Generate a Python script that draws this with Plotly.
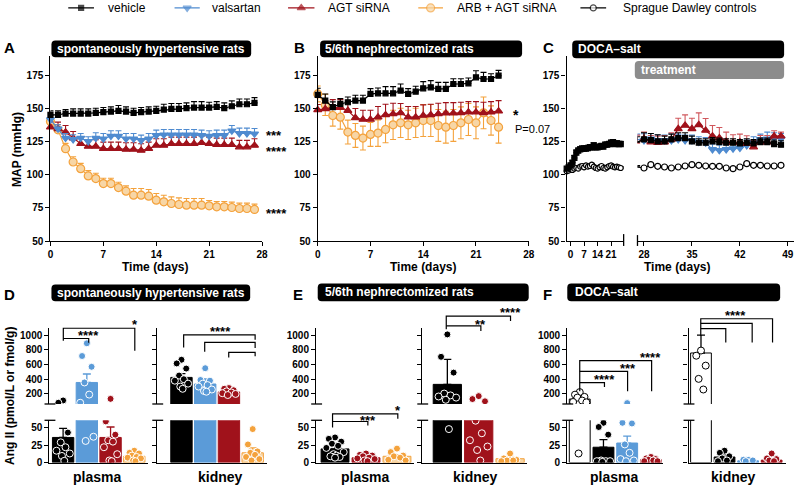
import plotly.graph_objects as go

W, H = 800, 490
FONT = "Liberation Sans, Arial, Helvetica, sans-serif"

BLACK = "#000000"
BLUE = "#5b9bd8"
BLUE_LINE = "#4f8bd0"
RED = "#a0121b"
ORANGE = "#f4a23c"
PEACH = "#f7d6a6"
GRAY = "#8c8c8c"
WHITE = "#ffffff"

# ---------------- Panel A : spontaneously hypertensive rats (MAP, mmHg) ----------------
A_days = list(range(28))
A_vehicle = [145, 145, 146, 146, 146, 146, 146.5, 147, 147.5, 148, 147.5, 146.5, 147, 147.5, 148,
             149, 149.5, 149.5, 150, 150.5, 150.5, 150.5, 151, 150, 151.5, 153, 153, 154]
A_vehicle_err = [3, 3, 3, 3.5, 3.5, 3.5, 3.5, 3.5, 3.5, 4, 3.5, 3.5, 3.5, 3.5, 3.5, 4, 4, 4, 4,
                 4.5, 4.5, 4, 4, 4, 4, 4, 4, 4]
A_valsartan = [141.5, 134.5, 127.5, 126.5, 127.5, 125, 127.5, 127, 129, 129, 127, 127, 125.75, 127,
               129.5, 130, 130, 130, 130, 130, 129.5, 129, 129.5, 129.5, 133, 131, 131, 130.75]
A_valsartan_err = [3, 3, 3.5, 3.5, 3.5, 3.5, 4, 4, 4, 4, 4, 4, 4, 4, 4, 4, 4, 4, 4, 4, 4, 4, 4, 4,
                   4, 4, 4, 4]
A_agt = [135.75, 134.5, 132, 127.5, 123.25, 121.25, 121.25, 119.5, 119.5, 119.5, 119, 119, 118.25,
         119.5, 122, 122, 123.25, 123.25, 123.25, 123.25, 124, 123.25, 122.5, 122.5, 122.5, 120.75,
         120.75, 122]
A_agt_err = [4, 5, 5, 5, 5, 5, 5, 5, 5, 5, 5, 5, 5, 5, 5, 5, 5, 5, 5, 5, 5, 5, 5, 5, 5, 5, 5, 5]
A_arb = [140, 133.75, 119.5, 109.5, 104.5, 99, 97, 93.25, 93.25, 90.25, 87.5, 84.5, 84.5, 83.75,
         80.75, 79.5, 78.25, 77.5, 77, 77, 77, 76.5, 75.75, 75.75, 75.25, 74.5, 74.5, 73.75]
A_arb_err = [4, 4, 4, 4, 4, 4, 4, 4, 4, 4, 4, 5, 5, 5, 5, 5, 5, 5, 5, 5, 5, 4, 4, 4, 4, 4, 4, 4]

# ---------------- Panel B : 5/6th nephrectomized rats ----------------
B_days = list(range(25))
B_vehicle = [160, 155.75, 150.75, 153.25, 154.5, 155.75, 155.75, 160.75, 161.25, 161.25, 161.25,
             163.25, 160.75, 162.5, 165, 165.75, 164.5, 164.5, 168.25, 168.25, 168.75, 173.25, 172,
             172, 174.5]
B_vehicle_err = [5, 5, 4, 4, 4, 4, 4, 4, 4, 5, 5, 5, 4, 4, 5, 5, 5, 5, 4, 4, 4, 5, 5, 4, 4]
B_agt = [148.75, 149.5, 150.5, 150.5, 148.25, 142.75, 141.5, 141.5, 143.25, 145, 145.75, 146.5,
         143.25, 143.25, 144.5, 145, 145.75, 146.25, 146.25, 146.5, 147, 147, 146.5, 147, 147.75]
B_agt_err = [4, 5, 6, 6, 7, 7, 7, 7, 8, 8, 8, 7, 8, 8, 8, 8, 8, 8, 8, 8, 8, 8, 8, 8, 8]
B_arb = [160.75, 152.5, 144.5, 143.25, 132, 129.5, 127.5, 130.25, 131.25, 134, 137.5, 139, 137.5,
         139, 140.75, 140.75, 137, 135.75, 137, 139, 141.5, 139, 146.5, 140.75, 135.75]
B_arb_err = [6, 8, 8, 9, 9, 9, 9, 9, 10, 10, 11, 11, 11, 11, 12, 12, 12, 12, 12, 12, 12, 12, 12, 11, 12]

# ---------------- Panel C : DOCA-salt ----------------
C_days_pre = list(range(-2, 27))
C_vehicle_pre = [104.5, 105.5, 107, 109, 112.5, 116.5, 118, 119, 119.5, 119.5, 119.5, 120, 120.5,
                 120.5, 122, 120.5, 120.5, 121, 121.5, 121, 122.5, 122.5, 123, 124, 124.5, 123,
                 123.5, 123, 123]
C_vehicle_pre_err = [1, 1, 1, 1.5, 2, 2, 2, 2, 2, 2, 2, 2, 2, 2, 2, 2, 2, 2, 2, 2, 2, 2, 2, 2, 2,
                     2, 2, 2, 2]
C_sd_pre = [102.5, 103, 104, 103.5, 104.5, 105, 104.5, 106, 106.5, 105.5, 107, 106, 106.5, 107.5,
            106, 105, 104.5, 105.5, 106.5, 105, 104.5, 105.5, 106.5, 107, 106, 105.5, 106, 105.5,
            105]
C_sd_pre_err = [1, 1, 1, 1, 1, 1, 1, 1, 1, 1, 1, 1, 1, 1, 1, 1, 1, 1, 1, 1, 1, 1, 1, 1, 1, 1, 1,
                1, 1]
C_days_tx = list(range(27, 49))
C_vehicle_tx = [124.5, 126.5, 126, 125, 125, 126.5, 127.5, 127.5, 125, 124, 124, 125, 124.5, 124,
                124, 123.5, 124, 123.5, 124.5, 124.5, 123, 122.5]
C_vehicle_tx_err = [4, 5, 5, 5, 4, 4, 4, 4, 4, 3, 3, 3, 3, 3, 3, 3, 3, 3, 3, 3, 3, 3]
C_valsartan_tx = [126.5, 125.75, 127, 125.75, 125.75, 125.75, 126.5, 125.75, 125.75, 124.5, 124,
                  119, 118.25, 119, 119.5, 120, 122, 124.5, 126.5, 127, 127.5, 127]
C_valsartan_tx_err = [4, 5, 4, 4, 4, 5, 4, 4, 4, 4, 4, 4, 4, 4, 4, 4, 4, 4, 4, 5, 4, 4]
C_agt_tx = [123.75, 127, 124.5, 124, 124.5, 126.5, 134.5, 137, 134.5, 137.5, 133.25, 129, 127.5,
            125, 124, 124.5, 123.25, 120.75, 124.5, 124.5, 129, 129]
C_agt_tx_err = [6, 5, 5, 5, 5, 5, 8, 8, 8, 9, 9, 8, 8, 7, 6, 6, 6, 5, 5, 5, 4, 3]
C_sd_tx = [105.75, 105, 107.5, 106.25, 105.75, 105, 105.75, 106.5, 107.5, 107, 106.5, 106.25,
           106.25, 105, 104.5, 105.75, 108.25, 107, 107, 106.5, 106.5, 107]
C_sd_tx_err = [1, 1, 1, 1, 1, 1, 1, 1, 1, 1, 1, 1, 1, 1, 1, 1, 1, 1, 1, 1, 1, 1]

# ---------------- Panels D-F : Ang II (pmol/L or fmol/g) ----------------
D_plasma_mean = [36, 356, 36, 9]
D_plasma_err = [13, 115, 15, 2]
D_plasma_dots = [[111, 80, 43, 29, 22, 17, 13, 9.5, 2.5],
                 [889, 716, 569, 356, 191, 80, 37, 31],
                 [133, 59, 40, 32, 30, 22, 12, 3, 2],
                 [17, 14, 13, 10, 8, 7, 6, 3, 2]]
D_kidney_mean = [425, 335, 227, 14]
D_kidney_err = [50, 70, 15, 7]
D_kidney_dots = [[665, 615, 545, 450, 400, 380, 340, 300, 270],
                 [550, 390, 380, 340, 320, 300, 260, 240, 230],
                 [280, 270, 250, 235, 220, 210, 200, 185],
                 [48, 26, 16, 14, 11, 8, 5, 3]]
E_plasma_mean = [19.6, 6.8, 9]
E_plasma_err = [3.5, 1.5, 2.5]
E_plasma_dots = [[36, 34, 30, 27, 24, 21, 15, 12, 10, 9, 8, 7],
                 [13, 11, 10, 9, 7, 6, 5, 3, 2],
                 [20, 15, 10, 9, 7, 4, 3]]
E_kidney_mean = [330, 63, 5.5]
E_kidney_err = [340, 20, 2]
E_kidney_dots = [[1010, 705, 490, 205, 180, 165, 150, 120, 48],
                 [170, 130, 100, 60, 42, 32, 23, 18, 3],
                 [13, 6, 4, 3, 3, 2]]
F_plasma_mean = [130, 22, 28, 4]
F_plasma_err = [25, 11, 10, 1]
F_plasma_dots = [[225, 190, 160, 150, 110, 90, 85, 13],
                 [57, 51, 40, 3, 2, 2, 2, 1],
                 [75, 57, 56, 26, 14, 5, 3, 2],
                 [8, 6, 5, 4, 3, 2, 2]]
F_kidney_mean = [757, 8, 2.5, 3.5]
F_kidney_err = [243, 3, 1, 1.5]
F_kidney_dots = [[790, 720, 585, 405, 260],
                 [17, 14, 9, 6, 3, 2],
                 [4, 4, 3, 2],
                 [13, 6, 5, 3, 2]]

MAP_TICKS = [50, 75, 100, 125, 150, 175]
DAY_TICKS = [0, 7, 14, 21, 28]
UPPER_TICKS = [200, 400, 600, 800, 1000]
LOWER_TICKS = [0, 25, 50]

legend_names = ["vehicle", "valsartan", "AGT siRNA", "ARB + AGT siRNA", "Sprague Dawley controls"]

# ======================================================================
fig = go.Figure()
layout_axes = {}
shapes = []
annotations = []


def X(px):
    return px / W


def Y(py):
    return 1 - py / H


AX_BASE = dict(showgrid=False, zeroline=False, showline=True, linecolor="black", linewidth=1.3,
               ticks="outside", ticklen=4, tickwidth=1.3, tickcolor="black", tickangle=0,
               tickfont=dict(family=FONT, size=10, color="black", weight="bold"), fixedrange=True)


def ref(i):
    return ("x", "y") if i == 1 else (f"x{i}", f"y{i}")


def make_axes(i, xpx, ypx, xr, yr, xo=None, yo=None):
    xn = "xaxis" if i == 1 else f"xaxis{i}"
    yn = "yaxis" if i == 1 else f"yaxis{i}"
    xr_, yr_ = ref(i)
    xa = dict(AX_BASE)
    xa.update(domain=[X(xpx[0]), X(xpx[1])], range=xr, anchor=yr_)
    ya = dict(AX_BASE)
    ya.update(domain=[Y(ypx[1]), Y(ypx[0])], range=yr, anchor=xr_)
    if xo:
        xa.update(xo)
    if yo:
        ya.update(yo)
    layout_axes[xn] = xa
    layout_axes[yn] = ya
    # empty placeholder so that every declared subplot is drawn
    fig.add_trace(go.Scatter(x=[], y=[], xaxis=xr_, yaxis=yr_, mode="markers", hoverinfo="skip"))


def ann(x, y, text, size=12, color="black", xanchor="center", angle=0, bold=True):
    t = f"<b>{text}</b>" if bold else text
    annotations.append(dict(x=X(x), y=Y(y), xref="paper", yref="paper", text=t, showarrow=False,
                            xanchor=xanchor, yanchor="middle", textangle=angle,
                            font=dict(family=FONT, size=size, color=color)))


def rrect(x0, y0, x1, y1, color, r=4):
    p = (f"M {X(x0 + r)},{Y(y0)} L {X(x1 - r)},{Y(y0)} Q {X(x1)},{Y(y0)} {X(x1)},{Y(y0 + r)} "
         f"L {X(x1)},{Y(y1 - r)} Q {X(x1)},{Y(y1)} {X(x1 - r)},{Y(y1)} L {X(x0 + r)},{Y(y1)} "
         f"Q {X(x0)},{Y(y1)} {X(x0)},{Y(y1 - r)} L {X(x0)},{Y(y0 + r)} Q {X(x0)},{Y(y0)} {X(x0 + r)},{Y(y0)} Z")
    shapes.append(dict(type="path", path=p, xref="paper", yref="paper", fillcolor=color,
                       line=dict(width=0), layer="above"))


def pline(pts, width=1.2, color="black"):
    p = "M " + " L ".join(f"{X(a)},{Y(b)}" for a, b in pts)
    shapes.append(dict(type="path", path=p, xref="paper", yref="paper",
                       line=dict(color=color, width=width), layer="above"))


def line_trace(i, x, y, err, color, symbol, size, fill=None, errminus=None, errcolor=None):
    xr, yr = ref(i)
    fig.add_trace(go.Scatter(
        x=x, y=y, xaxis=xr, yaxis=yr, mode="lines+markers",
        line=dict(color=color, width=1.2),
        marker=dict(symbol=symbol, size=size, color=fill or color, line=dict(color=color, width=1.2)),
        error_y=dict(type="data", symmetric=False, array=err,
                     arrayminus=errminus if errminus is not None else [0] * len(err),
                     color=errcolor or color, thickness=1.1, width=3),
        cliponaxis=False, hoverinfo="skip"))


# ---------------- axes: line panels ----------------
YDOM_TOP = (57, 244)
yopts_map = dict(tickvals=MAP_TICKS)
make_axes(1, (48, 262), YDOM_TOP, [0, 28], [50, 189.1], dict(tickvals=DAY_TICKS), yopts_map)
make_axes(2, (318.3, 531.7), YDOM_TOP, [0, 28], [50, 189.1], dict(tickvals=DAY_TICKS), yopts_map)
make_axes(3, (570, 627.7), YDOM_TOP, [-2.05, 27.5], [50, 189.1], dict(tickvals=[0, 7, 14, 21]), yopts_map)
make_axes(4, (641.7, 800), YDOM_TOP, [27.05, 49.9], [50, 189.1], dict(tickvals=[28, 35, 42, 49]),
          dict(visible=False))

# ---------------- line traces ----------------
line_trace(1, A_days, A_arb, A_arb_err, ORANGE, "circle", 8, fill=PEACH)
line_trace(1, A_days, A_agt, A_agt_err, RED, "triangle-up", 7)
line_trace(1, A_days, A_valsartan, A_valsartan_err, BLUE_LINE, "triangle-down", 7)
line_trace(1, A_days, A_vehicle, A_vehicle_err, BLACK, "square", 5)

line_trace(2, B_days, B_arb, B_arb_err, ORANGE, "circle", 8, fill=PEACH, errminus=B_arb_err)
line_trace(2, B_days, B_agt, B_agt_err, RED, "triangle-up", 7)
line_trace(2, B_days, B_vehicle, B_vehicle_err, BLACK, "square", 5)

line_trace(3, C_days_pre, C_sd_pre, C_sd_pre_err, BLACK, "circle", 5, fill=WHITE)
line_trace(3, C_days_pre, C_vehicle_pre, C_vehicle_pre_err, BLACK, "square", 5)
line_trace(4, C_days_tx, C_sd_tx, C_sd_tx_err, BLACK, "circle", 6, fill=WHITE)
line_trace(4, C_days_tx, C_valsartan_tx, C_valsartan_tx_err, BLUE_LINE, "triangle-down", 7)
line_trace(4, C_days_tx, C_agt_tx, C_agt_tx_err, RED, "triangle-up", 7, errcolor="#d0575c")
line_trace(4, C_days_tx, C_vehicle_tx, C_vehicle_tx_err, BLACK, "square", 5)

# ---------------- bar panels ----------------
UP_DOM = (332, 409)
LOW_DOM = (425.5, 468.3)
UP_RANGE = [63, 1098]
LOW_RANGE = [0, 60.6]
SPLIT = 61.5
JITTER = [0.0, -0.2, 0.2, -0.1, 0.1, -0.28, 0.28, -0.05, 0.05, -0.15, 0.15, 0.0]


def broken_axes(i_low, i_up, xpx, xr, labels):
    xo_low = dict(ticks="", showticklabels=False)
    make_axes(i_low, xpx, LOW_DOM, xr, LOW_RANGE, xo_low,
              dict(tickvals=LOWER_TICKS, showticklabels=labels))
    make_axes(i_up, xpx, UP_DOM, xr, UP_RANGE, dict(visible=False),
              dict(tickvals=UPPER_TICKS, showticklabels=labels))
    ax = xpx[0]
    pline([(ax - 5, UP_DOM[1]), (ax + 6, UP_DOM[1])], width=1.3)
    pline([(ax - 5, LOW_DOM[0]), (ax + 6, LOW_DOM[0])], width=1.3)


def bar_group(i_low, i_up, means, errs, dots, fills, edges, dfills, dedges, width=0.9):
    for k in range(len(means)):
        segs = [i_low] + ([i_up] if means[k] > UP_RANGE[0] else [])
        for i in segs:
            xr, yr = ref(i)
            fig.add_trace(go.Bar(
                x=[k], y=[means[k]], width=width, xaxis=xr, yaxis=yr,
                marker=dict(color=fills[k], line=dict(color=edges[k], width=1)),
                error_y=dict(type="data", symmetric=False, array=[errs[k]], arrayminus=[0],
                             color=edges[k], thickness=1.3, width=4),
                hoverinfo="skip"))
    for k in range(len(dots)):
        vals = sorted(dots[k], reverse=True)
        xs = [k + JITTER[j] for j in range(len(vals))]
        for i, keep in ((i_low, lambda v: v <= SPLIT), (i_up, lambda v: v > SPLIT)):
            sx = [a for a, v in zip(xs, vals) if keep(v)]
            sy = [v for v in vals if keep(v)]
            if not sy:
                continue
            xr, yr = ref(i)
            fig.add_trace(go.Scatter(
                x=sx, y=sy, xaxis=xr, yaxis=yr, mode="markers",
                marker=dict(size=7, color=dfills[k], line=dict(color=dedges[k], width=1)),
                hoverinfo="skip"))


# D
broken_axes(5, 6, (47, 146.7), [-0.575, 3.58], True)
broken_axes(7, 8, (156, 266.7), [-1.02, 3.59], False)
D_fill = [BLACK, BLUE, RED, PEACH]
D_edge = [BLACK, BLUE, RED, ORANGE]
D_dot = [BLACK, BLUE, RED, ORANGE]
bar_group(5, 6, D_plasma_mean, D_plasma_err, D_plasma_dots, D_fill, D_edge, D_dot, [WHITE] * 4)
bar_group(7, 8, D_kidney_mean, D_kidney_err, D_kidney_dots, D_fill, D_edge, D_dot, [WHITE] * 4)

# E
broken_axes(9, 10, (316.7, 416), [-0.61, 2.56], True)
broken_axes(11, 12, (424, 530), [-0.8, 2.54], False)
E_fill = [BLACK, RED, PEACH]
E_edge = [BLACK, RED, ORANGE]
E_dot = [BLACK, RED, ORANGE]
bar_group(9, 10, E_plasma_mean, E_plasma_err, E_plasma_dots, E_fill, E_edge, E_dot, [WHITE] * 3)
bar_group(11, 12, E_kidney_mean, E_kidney_err, E_kidney_dots, E_fill, E_edge, E_dot, [WHITE] * 3)

# F
broken_axes(13, 14, (570.7, 668), [-0.525, 3.53], True)
broken_axes(15, 16, (693.3, 791.7), [-0.53, 3.6], False)
F_fill = [WHITE, BLACK, BLUE, RED]
F_edge = [BLACK, BLACK, BLUE, RED]
F_dot = [WHITE, BLACK, BLUE, RED]
F_dedge = [BLACK, WHITE, WHITE, WHITE]
bar_group(13, 14, F_plasma_mean, F_plasma_err, F_plasma_dots, F_fill, F_edge, F_dot, F_dedge, 0.88)
bar_group(15, 16, F_kidney_mean, F_kidney_err, F_kidney_dots, F_fill, F_edge, F_dot, F_dedge, 0.88)

# ---------------- legend (manual, top row) ----------------
layout_axes["xaxis17"] = dict(domain=[0, 1], range=[0, 800], visible=False, anchor="y17", fixedrange=True)
layout_axes["yaxis17"] = dict(domain=[Y(16), 1], range=[0, 1], visible=False, anchor="x17", fixedrange=True)
leg_spec = [
    (66, 92, 104, BLACK, "square", 5, BLACK),
    (173.5, 199, 209, BLUE_LINE, "triangle-down", 7, BLUE_LINE),
    (288.3, 315, 326.7, RED, "triangle-up", 7, RED),
    (420, 445, 456.7, ORANGE, "circle", 8, PEACH),
    (584, 610, 625, BLACK, "circle", 6, WHITE),
]
for (x0, x1, tx, col, sym, sz, fillc), name in zip(leg_spec, legend_names):
    fig.add_trace(go.Scatter(x=[x0, (x0 + x1) / 2, x1], y=[0.5, 0.5, 0.5], xaxis="x17", yaxis="y17",
                             mode="lines+markers", line=dict(color=col, width=1.2),
                             marker=dict(symbol=sym, size=[0, sz, 0], color=fillc,
                                         line=dict(color=col, width=1.2)),
                             cliponaxis=False, hoverinfo="skip"))
    ann(tx, 8, name, size=12, xanchor="left", bold=False)

# ---------------- title bars & labels ----------------
rrect(49, 41, 251, 58, BLACK)
ann(53, 49.5, "spontaneously hypertensive rats", 12, WHITE, "left")
rrect(320.7, 41, 525, 58, BLACK)
ann(323.3, 49.5, "5/6th nephrectomized rats", 12, WHITE, "left")
rrect(575.7, 41, 790, 59, BLACK)
ann(580, 50, "DOCA\u2013salt", 12, WHITE, "left")
rrect(639, 61.7, 790, 80, GRAY)
ann(643.3, 71, "treatment", 12, WHITE, "left")
rrect(49, 288, 250, 305, BLACK)
ann(53, 296.5, "spontaneously hypertensive rats", 12, WHITE, "left")
rrect(318.3, 287, 531.7, 305, BLACK)
ann(323.3, 296, "5/6th nephrectomized rats", 12, WHITE, "left")
rrect(570.7, 287, 786, 305, BLACK)
ann(576, 296, "DOCA\u2013salt", 12, WHITE, "left")

for letter, lx, ly in [("A", 7, 48), ("B", 300, 48), ("C", 552, 48),
                       ("D", 7, 298), ("E", 298, 298), ("F", 551, 298)]:
    ann(lx, ly, letter, 15)

ann(14, 151, "MAP (mmHg)", 12, angle=-90)
ann(154, 270, "Time (days)", 12)
ann(425, 270, "Time (days)", 12)
ann(682, 270, "Time (days)", 12)
ann(7, 401, "Ang II (pmol/L or fmol/g)", 12, angle=-90)
for lx, txt in [(95, "plasma"), (220, "kidney"), (366, "plasma"), (478, "kidney"),
                (618, "plasma"), (739, "kidney")]:
    ann(lx, 482.5, txt, 14)

# C axis break marks
pline([(627.7, 237), (627.7, 249)], width=1.3)
pline([(641.7, 238), (641.7, 249)], width=1.3)

# significance stars, line panels
ann(264, 137, "***", 13, xanchor="left")
ann(264, 153, "****", 13, xanchor="left")
ann(264, 216, "****", 13, xanchor="left")
ann(514, 116, "*", 14, xanchor="left")
ann(516, 131, "P=0.07", 11, xanchor="left", bold=False)

# significance brackets, bar panels
pline([(61, 345), (61, 332.3), (133.3, 332.3), (133.3, 355)])
pline([(61, 342.7), (86.7, 342.7), (86.7, 347)])
ann(133.3, 329, "*", 13)
ann(86.3, 340, "****", 13)

pline([(182.7, 351.7), (182.7, 339), (255, 339), (255, 344)])
pline([(204, 356), (204, 346.7), (255, 346.7), (255, 352.3)])
pline([(228.3, 362), (228.3, 356.7), (255, 356.7), (255, 360.7)])
ann(220, 336, "****", 13)

pline([(333.3, 432.7), (333.3, 419), (399.3, 419), (399.3, 424)])
pline([(333.3, 426.7), (369, 426.7), (369, 430.7)])
ann(399.3, 415.5, "*", 13)
ann(369, 426, "***", 13)

pline([(448.3, 333.3), (448.3, 320), (513.3, 320), (513.3, 325)])
pline([(448.3, 330), (483.3, 330), (483.3, 335)])
ann(513.3, 316, "****", 13)
ann(483.3, 328.5, "**", 13)

pline([(583.3, 396), (583.3, 365), (656, 365), (656, 396)])
pline([(583.3, 376), (631.7, 376), (631.7, 396)])
pline([(583.3, 387.3), (608.3, 387.3), (608.3, 391.7)])
ann(655, 362, "****", 13)
ann(631.7, 372.7, "***", 13)
ann(608.3, 384.4, "****", 13)

pline([(705.7, 340), (705.7, 322.7), (778.3, 322.7), (778.3, 346.7)])
pline([(705.7, 327.3), (757.7, 327.3), (757.7, 346.7)])
pline([(705.7, 332.7), (731, 332.7), (731, 346.7)])
ann(740.8, 319.5, "****", 13)

fig.update_layout(**layout_axes, shapes=shapes, annotations=annotations,
                  width=W, height=H, margin=dict(l=0, r=0, t=0, b=0),
                  plot_bgcolor="white", paper_bgcolor="white", showlegend=False,
                  barmode="overlay", font=dict(family=FONT, color="black"))

fig.write_html("out.html", config={"displayModeBar": False},
               post_script="document.body.style.margin='0';")
